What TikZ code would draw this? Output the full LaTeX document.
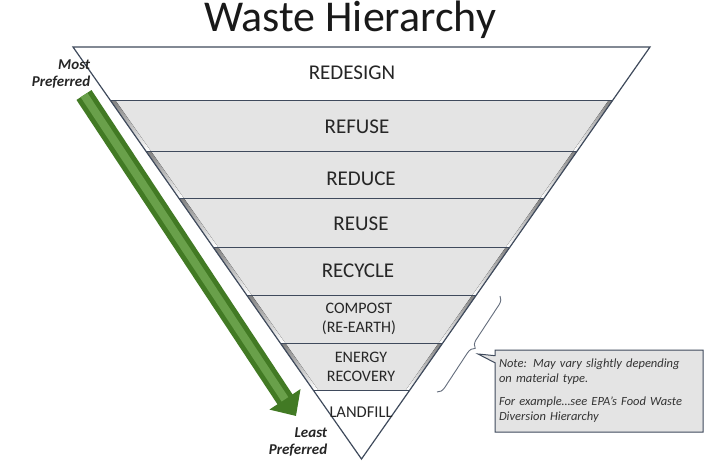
\documentclass[tikz,border=0pt]{standalone}
\usepackage{fontspec}
\setmainfont{Carlito}
\usetikzlibrary{arrows.meta,decorations.pathreplacing,shapes.callouts}
\definecolor{edge}{HTML}{3F4A5C}
\definecolor{band}{HTML}{E4E4E4}
\definecolor{shade}{HTML}{A9B0BA}
\definecolor{grn}{HTML}{4E8F2A}
\tikzset{
 lbl/.style={font=\fontsize{21}{23}\selectfont, text=black!85},
 sml/.style={font=\fontsize{16}{19}\selectfont, text=black!85, align=center},
 side/.style={font=\bfseries\itshape\fontsize{15}{17}\selectfont, align=right, text=black!85},
}
\begin{document}
\begin{tikzpicture}[x=1pt,y=-1pt]
\useasboundingbox (0,0) rectangle (728,466);
\fill[white] (0,0) rectangle (728,466);
\foreach \ya/\xa/\xb/\yb/\xc/\xd in {100/110.1/612.9/151/145.8/577.2,151/145.8/577.2/198/178.7/544.3,198/178.7/544.3/247/213/510,247/213/510/295/246.6/476.4,295/246.6/476.4/343/280.2/442.8,343/280.2/442.8/390/313.1/409.9}{
 \fill[band] (\xa,\ya) -- (\xb,\ya) -- (\xd,\yb) -- (\xc,\yb) -- cycle;
 \fill[shade] (\xa,\ya) -- (\xa+5,\ya) -- (\xc+5,\yb) -- (\xc,\yb) -- cycle;
 \fill[shade] (\xb,\ya) -- (\xb-4,\ya) -- (\xd-4,\yb) -- (\xd,\yb) -- cycle;
}
\draw[edge, line width=1.2pt] (73,47) -- (650,47) -- (361.5,459) -- cycle;
\foreach \y/\xa/\xb in {100/110.1/612.9,151/145.8/577.2,198/178.7/544.3,247/213/510,295/246.6/476.4,343/280.2/442.8,390/313.1/409.9}
 \draw[edge, line width=1pt] (\xa,\y) -- (\xb,\y);
\node[font=\fontsize{44}{48}\selectfont, text=black!90] (title) at (350,20) {Waste Hierarchy};
\node[lbl] (l1) at (352,73) {REDESIGN};
\node[lbl] (l2) at (357,127) {REFUSE};
\node[lbl] (l3) at (361,179) {REDUCE};
\node[lbl] (l4) at (361,224) {REUSE};
\node[lbl] (l5) at (358,271) {RECYCLE};
\node[sml] (l6) at (359,319) {COMPOST\\(RE-EARTH)};
\node[sml] (l7) at (361,367) {ENERGY\\RECOVERY};
\node[lbl, font=\fontsize{16.5}{18}\selectfont] (l8) at (361,412) {LANDFILL};
\node[side] (most) at (61,74) {Most\\Preferred};
\node[side] (least) at (298,442) {Least\\Preferred};
\coordinate (as) at (84,95);
\coordinate (ae) at (296,416);
\draw[grn!85!black, line width=18pt, -{Triangle[length=20pt,width=36pt]}] (as) -- (ae);
\draw[grn!85!white, line width=8pt, shorten >=20pt] (as) -- (ae);
\coordinate (b1) at (500,296);
\coordinate (b2) at (437,392);
\draw[edge!80, line width=0.9pt, decorate, decoration={brace, amplitude=8pt}] (b1) -- (b2);
\node[rectangle callout, draw=edge, line width=1pt, fill=band, text width=200pt, align=left,
 font=\itshape\fontsize{12.5}{15}\selectfont, text=black!80, inner sep=4pt, minimum height=82pt,
 callout absolute pointer={(478,354)}] (note) at (599,391)
 {\hyphenpenalty=10000 Note: May vary slightly depending\\on material type.\\[8pt]For example\dots see EPA’s Food Waste\\Diversion Hierarchy};
\end{tikzpicture}
\end{document}
